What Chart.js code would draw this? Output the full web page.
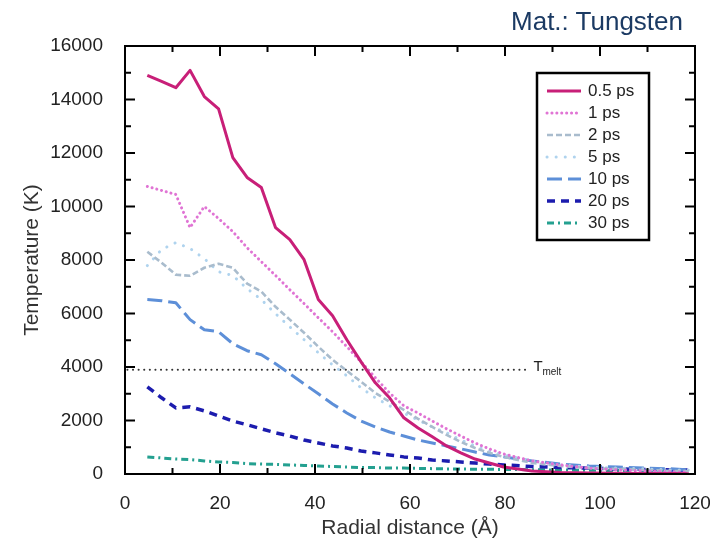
<!DOCTYPE html>
<html>
<head>
<meta charset="utf-8">
<script src="https://cdn.jsdelivr.net/npm/chart.js@4.4.1/dist/chart.umd.min.js"></script>
<style>
  html, body { margin: 0; padding: 0; background: #fff; }
  #wrap { width: 710px; height: 545px; position: relative; }
  #titulo {
    position: absolute; right: 27px; top: 6px;
    font: 26px "Liberation Sans", Arial, sans-serif; color: #1b3a63;
  }
</style>
</head>
<body>
<div id="wrap">
  <canvas id="grafico" width="710" height="545"></canvas>
  <div id="titulo">Mat.: Tungsten</div>
</div>
<script>
// ===================== DATOS =====================
const radios = [4.7, 7.7, 10.7, 13.7, 16.7, 19.7, 22.7, 25.7, 28.7, 31.7, 34.7, 37.7, 40.7,
  43.7, 46.7, 49.7, 52.7, 55.7, 58.7, 61.7, 64.7, 67.7, 70.7, 73.7, 76.7, 79.7,
  85.7, 91.7, 97.7, 103.7, 109.7, 115.7, 118.7];

const t05 = [14900, 14680, 14440, 15090, 14110, 13650, 11830, 11085, 10710, 9210, 8760, 8010, 6520,
  5920, 5020, 4190, 3410, 2850, 2100, 1720, 1390, 1050, 790, 560, 410, 260,
  110, 60, 40, 30, 20, 15, 10];
const t1 = [10750, 10600, 10450, 9210, 10000, 9550, 9060, 8460, 7940, 7420, 6890, 6370, 5840,
  5320, 4760, 4190, 3600, 3030, 2550, 2280, 1980, 1690, 1420, 1160, 940, 750,
  490, 340, 220, 150, 110, 75, 60];
const t2 = [8310, 7900, 7450, 7410, 7710, 7860, 7710, 7120, 6820, 6250, 5770, 5280, 4760,
  4270, 3860, 3450, 3030, 2700, 2400, 2060, 1760, 1460, 1200, 970, 790, 640,
  410, 300, 220, 190, 150, 110, 110];
const t5 = [7790, 8390, 8650, 8430, 8050, 7560, 7420, 6930, 6520, 5990, 5500, 5020, 4530,
  4080, 3670, 3220, 2850, 2550, 2280, 2020, 1760, 1540, 1270, 1050, 860, 710,
  490, 340, 260, 220, 190, 150, 150];
const t10 = [6520, 6480, 6400, 5770, 5390, 5320, 4870, 4610, 4460, 4120, 3750, 3370, 3000,
  2620, 2280, 1980, 1760, 1570, 1420, 1270, 1160, 1050, 940, 820, 710, 640,
  490, 370, 300, 260, 220, 190, 150];
const t20 = [3260, 2850, 2470, 2510, 2360, 2170, 1980, 1840, 1690, 1540, 1420, 1270, 1160,
  1050, 970, 860, 790, 710, 640, 600, 520, 490, 450, 410, 370, 340,
  280, 240, 220, 190, 170, 150, 150];
const t30 = [640, 600, 560, 540, 490, 450, 430, 390, 370, 360, 340, 320, 300,
  280, 260, 240, 240, 220, 220, 210, 200, 190, 185, 180, 175, 170,
  160, 150, 140, 130, 120, 110, 110];

const nombres = ["0.5 ps", "1 ps", "2 ps", "5 ps", "10 ps", "20 ps", "30 ps"];
const xTicks = [0, 20, 40, 60, 80, 100, 120];
const yTicks = [0, 2000, 4000, 6000, 8000, 10000, 12000, 14000, 16000];
const tMelt = 3900;
const tMeltRango = [0.5, 84.5];

// ===================== ESTILOS =====================
const estilos = [
  { color: "#c81f78", width: 3, dash: [], cap: "butt" },
  { color: "#e074d4", width: 3, dash: [0.1, 4.8], cap: "round" },
  { color: "#a9bccd", width: 2.6, dash: [6, 3], cap: "butt" },
  { color: "#afd3ee", width: 3, dash: [0.1, 9], cap: "round" },
  { color: "#5d8fd8", width: 3, dash: [15, 6], cap: "butt" },
  { color: "#1c1cae", width: 3.5, dash: [8, 6], cap: "butt" },
  { color: "#24a090", width: 3, dash: [7, 4, 2, 4], cap: "butt" },
];
const series = [t05, t1, t2, t5, t10, t20, t30];

const FUENTE = '"Liberation Sans", Arial, sans-serif';
Chart.defaults.font.family = FUENTE;

const datasets = series.map((serie, i) => ({
  label: nombres[i],
  data: serie.map((v, j) => ({ x: radios[j], y: v })),
  borderColor: estilos[i].color,
  borderWidth: estilos[i].width,
  borderDash: estilos[i].dash,
  borderCapStyle: estilos[i].cap,
  borderJoinStyle: "round",
  pointRadius: 0,
  tension: 0,
  fill: false,
}));
// linea de fusion
datasets.push({
  label: "Tmelt",
  data: tMeltRango.map((x) => ({ x, y: tMelt })),
  borderColor: "#333",
  borderWidth: 2,
  borderDash: [0.1, 5.5],
  borderCapStyle: "round",
  pointRadius: 0,
  fill: false,
});

// ===================== PLUGIN MARCO Y TICKS =====================
const marcoPlugin = {
  id: "marco",
  afterDatasetsDraw(chart) {
    const { ctx, chartArea: a, scales } = chart;
    const x = scales.x, y = scales.y;
    ctx.save();
    ctx.strokeStyle = "#000";
    ctx.lineWidth = 2;
    ctx.beginPath();
    for (let v = 0; v <= 120; v += 10) {
      const px = x.getPixelForValue(v);
      const len = v % 20 === 0 ? 10 : 6;
      ctx.moveTo(px, a.bottom); ctx.lineTo(px, a.bottom - len);
      ctx.moveTo(px, a.top); ctx.lineTo(px, a.top + len);
    }
    for (let v = 0; v <= 16000; v += 1000) {
      const py = y.getPixelForValue(v);
      const len = v % 2000 === 0 ? 10 : 6;
      ctx.moveTo(a.left, py); ctx.lineTo(a.left + len, py);
      ctx.moveTo(a.right, py); ctx.lineTo(a.right - len, py);
    }
    ctx.stroke();
    ctx.strokeRect(a.left, a.top, a.right - a.left, a.bottom - a.top);

    // etiqueta T_melt
    const lx = x.getPixelForValue(tMeltRango[1]) + 7;
    const ly = y.getPixelForValue(tMelt);
    ctx.fillStyle = "#222";
    ctx.textBaseline = "middle";
    ctx.font = "15px " + FUENTE;
    ctx.fillText("T", lx, ly - 3);
    ctx.font = "10px " + FUENTE;
    ctx.fillText("melt", lx + 9, ly + 3);
    ctx.restore();
  },
};

// ===================== PLUGIN LEYENDA =====================
const leyendaPlugin = {
  id: "leyenda",
  afterDraw(chart) {
    const { ctx } = chart;
    const caja = { left: 537, top: 73, width: 112, height: 167 };
    ctx.save();
    ctx.fillStyle = "#fff";
    ctx.fillRect(caja.left, caja.top, caja.width, caja.height);
    ctx.strokeStyle = "#000";
    ctx.lineWidth = 2.5;
    ctx.strokeRect(caja.left, caja.top, caja.width, caja.height);
    ctx.font = "17px " + FUENTE;
    ctx.textBaseline = "middle";
    nombres.forEach((nombre, i) => {
      const yy = caja.top + 18 + i * 22;
      const ds = chart.data.datasets[i];
      ctx.beginPath();
      ctx.strokeStyle = ds.borderColor;
      ctx.lineWidth = ds.borderWidth;
      ctx.setLineDash(ds.borderDash);
      ctx.lineCap = ds.borderCapStyle;
      ctx.moveTo(caja.left + 10, yy);
      ctx.lineTo(caja.left + 44, yy);
      ctx.stroke();
      ctx.setLineDash([]);
      ctx.fillStyle = "#222";
      ctx.fillText(nombre, caja.left + 51, yy);
    });
    ctx.restore();
  },
};

// ===================== GRAFICO =====================
new Chart(document.getElementById("grafico").getContext("2d"), {
  type: "line",
  data: { datasets },
  options: {
    responsive: false,
    animation: false,
    layout: { padding: { left: 0, top: 46, right: 15, bottom: 0 } },
    plugins: { legend: { display: false }, tooltip: { enabled: false } },
    scales: {
      x: {
        type: "linear",
        min: 0,
        max: 120,
        grid: { display: false },
        border: { display: false },
        afterBuildTicks: (s) => { s.ticks = xTicks.map((v) => ({ value: v })); },
        afterFit: (s) => { s.height = 71; s.paddingLeft = 0; s.paddingRight = 0; },
        ticks: { color: "#222", font: { size: 19 }, padding: 10, maxRotation: 0, autoSkip: false,
          callback: (v) => String(v) },
        title: { display: true, text: "Radial distance (Å)", color: "#333",
          font: { size: 21 }, padding: { top: 0, bottom: 4 } },
      },
      y: {
        type: "linear",
        min: 0,
        max: 16000,
        grid: { display: false },
        border: { display: false },
        afterBuildTicks: (s) => { s.ticks = yTicks.map((v) => ({ value: v })); },
        afterFit: (s) => { s.width = 125; s.paddingTop = 0; s.paddingBottom = 0; },
        ticks: { color: "#222", font: { size: 19 }, padding: 14, autoSkip: false,
          callback: (v) => String(v) },
        title: { display: true, text: "Temperature (K)", color: "#333",
          font: { size: 21 }, padding: { top: 20, bottom: 0 } },
      },
    },
  },
  plugins: [marcoPlugin, leyendaPlugin],
});
</script>
</body>
</html>
